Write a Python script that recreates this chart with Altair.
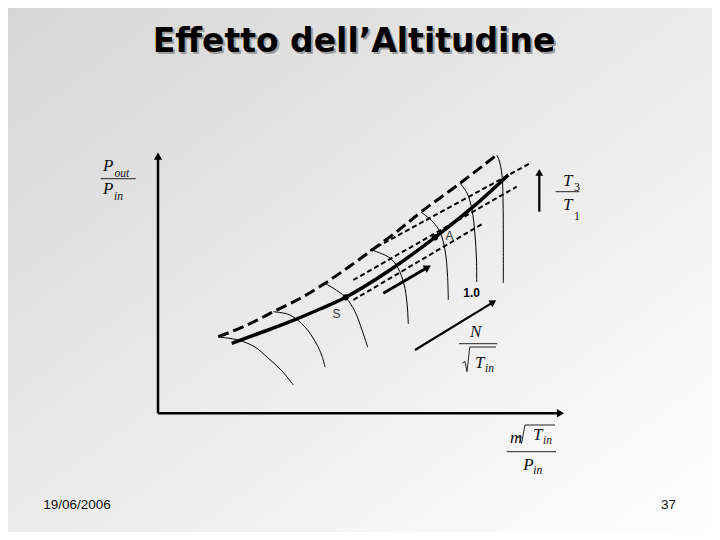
import altair as alt
import pandas as pd
import numpy as np

# ---------------- data (diagram coordinates, reference pixel units) ----------------
title_text = "Effetto dell\u2019Altitudine"
footer_date = "19/06/2006"
footer_page = "37"

# surge line (thick long dashes)
surge_x = [218.3, 245.0, 273.3, 300.0, 325.0, 348.0, 372.0, 397.0, 421.0, 460.0, 496.7]
surge_y = [336.7, 326.0, 311.7, 298.5, 283.3, 267.5, 250.0, 231.5, 212.0, 183.3, 155.0]

# operating line (thick solid)
oper_x = [231.7, 260.0, 290.0, 320.0, 345.7, 390.0, 435.0, 473.3, 508.3]
oper_y = [343.3, 333.0, 321.7, 309.0, 297.3, 270.0, 237.3, 206.7, 175.0]

# dotted operating lines (start x, start y, end x, end y)
dotted_lines = {
    "top": ([370.0, 530.0], [250.7, 163.3]),
    "mid": ([353.3, 516.7], [280.0, 186.7]),
    "low": ([353.3, 483.3], [300.0, 223.3]),
}

# constant corrected-speed lines
speed_lines = {
    "n1": ([218.3, 238.0, 255.0, 268.0, 282.0, 293.3], [337.0, 340.0, 347.0, 358.0, 371.0, 385.0]),
    "n2": ([273.3, 290.0, 305.0, 316.0, 322.0, 325.0], [311.7, 315.0, 327.0, 343.0, 356.0, 367.0]),
    "n3": ([325.0, 345.0, 355.0, 362.0, 367.7], [283.3, 296.7, 311.7, 330.0, 347.0]),
    "n4": ([372.0, 390.0, 398.0, 404.0, 407.0, 408.3], [250.0, 258.0, 268.0, 284.0, 303.0, 324.0]),
    "n5": ([421.0, 433.0, 440.0, 445.0, 447.5, 448.3], [212.0, 222.0, 232.0, 250.0, 275.0, 300.0]),
    "n6": ([460.0, 467.0, 472.0, 475.0, 476.5, 476.7], [183.3, 193.0, 210.0, 235.0, 260.0, 282.0]),
    "n7": ([496.7, 499.0, 502.0, 503.0, 503.3, 503.3], [155.0, 160.0, 175.0, 200.0, 240.0, 283.0]),
}

# operating points
point_names = ["S", "A"]
point_x = [345.7, 435.0]
point_y = [297.3, 237.3]

# arrows: tail -> tip
arrow_names = ["yaxis", "xaxis", "small", "big", "temp"]
arrow_x1 = [158.0, 158.0, 383.3, 415.0, 539.3]
arrow_y1 = [413.3, 413.3, 293.3, 350.0, 211.7]
arrow_x2 = [158.0, 565.0, 431.7, 496.7, 539.3]
arrow_y2 = [151.7, 413.3, 265.0, 300.0, 168.3]

# ---------------- styles ----------------
W, H = 704, 524
XS = alt.Scale(domain=[8, 712], nice=False, zero=False)
YS = alt.Scale(domain=[8, 532], nice=False, zero=False, reverse=True)
arrow_style = {  # stroke width, head size, head length
    "yaxis": (2.5, 70, 4.5),
    "xaxis": (2.5, 70, 4.5),
    "small": (3.0, 70, 4.5),
    "big": (2.2, 60, 4.0),
    "temp": (2.2, 60, 4.0),
}


def xy(xf="x", yf="y"):
    return dict(x=alt.X(f"{xf}:Q", scale=XS, axis=None), y=alt.Y(f"{yf}:Q", scale=YS, axis=None))


def lines_df(d):
    rows = []
    for k, (xs, ys) in d.items():
        for i, (a, b) in enumerate(zip(xs, ys)):
            rows.append({"id": k, "ord": i, "x": a, "y": b})
    return pd.DataFrame(rows)


layers = []

# background gradient
bg = alt.Chart(pd.DataFrame({"a": [0]})).mark_rect(
    fill=alt.Gradient(
        gradient="linear",
        stops=[alt.GradientStop(color="#d6d6d6", offset=0), alt.GradientStop(color="#ffffff", offset=1)],
        x1=0, y1=0, x2=1, y2=1,
    )
).encode(x=alt.value(0), x2=alt.value(W), y=alt.value(0), y2=alt.value(H))
layers.append(bg)

# speed lines
layers.append(
    alt.Chart(lines_df(speed_lines)).mark_line(color="black", strokeWidth=1, interpolate="catmull-rom")
    .encode(**xy(), detail="id:N", order="ord:Q")
)
# dotted lines
layers.append(
    alt.Chart(lines_df(dotted_lines)).mark_line(color="black", strokeWidth=2, strokeDash=[5, 3])
    .encode(**xy(), detail="id:N", order="ord:Q")
)
# surge line
layers.append(
    alt.Chart(lines_df({"surge": (surge_x, surge_y)})).mark_line(
        color="black", strokeWidth=3, strokeDash=[11, 5], interpolate="catmull-rom")
    .encode(**xy(), detail="id:N", order="ord:Q")
)
# operating line
layers.append(
    alt.Chart(lines_df({"oper": (oper_x, oper_y)})).mark_line(
        color="black", strokeWidth=3.5, interpolate="catmull-rom")
    .encode(**xy(), detail="id:N", order="ord:Q")
)
# points
layers.append(
    alt.Chart(pd.DataFrame({"x": point_x, "y": point_y})).mark_circle(color="black", opacity=1, size=40)
    .encode(**xy())
)

# arrows
for n, x1, y1, x2, y2 in zip(arrow_names, arrow_x1, arrow_y1, arrow_x2, arrow_y2):
    sw, hs, hl = arrow_style[n]
    dx, dy = x2 - x1, y2 - y1
    L = np.hypot(dx, dy)
    ux, uy = dx / L, dy / L
    hx, hy = x2 - ux * hl, y2 - uy * hl
    ang = float(np.degrees(np.arctan2(dx, -dy)) % 360)
    df = pd.DataFrame({"x": [x1], "y": [y1], "x2": [hx], "y2": [hy], "hx": [hx], "hy": [hy], "ang": [ang]})
    layers.append(
        alt.Chart(df).mark_rule(color="black", strokeWidth=sw)
        .encode(**xy(), x2="x2:Q", y2="y2:Q")
    )
    layers.append(
        alt.Chart(df).mark_point(shape="triangle-up", filled=True, color="black", opacity=1, size=hs)
        .encode(**xy("hx", "hy"), angle=alt.Angle("ang:Q", scale=None))
    )

# fraction bars and radicals
bars = {
    "p": ([100.7, 135.7], [178.7, 178.7]),
    "t": ([555.7, 579.3], [191.7, 191.7]),
    "n": ([459.0, 497.3], [343.7, 343.7]),
    "m": ([506.7, 556.0], [451.7, 451.7]),
    "rad1": ([462.3, 465.0, 467.0, 469.8, 496.0], [363.0, 361.5, 371.7, 347.0, 347.0]),
    "rad2": ([517.0, 519.5, 521.5, 525.0, 555.0], [438.0, 436.5, 443.5, 425.0, 425.0]),
}
layers.append(
    alt.Chart(lines_df(bars)).mark_line(color="#222222", strokeWidth=1)
    .encode(**xy(), detail="id:N", order="ord:Q")
)


def text_layer(xs, ys, texts, **kw):
    df = pd.DataFrame({"x": xs, "y": ys, "t": texts})
    return alt.Chart(df).mark_text(**kw).encode(**xy(), text="t:N")


serif = dict(font="Liberation Serif", fontStyle="italic", color="#111111", align="left", baseline="alphabetic")
# main math letters
layers.append(text_layer(
    [103.0, 103.0, 563.0, 563.0, 470.0, 475.0, 510.0, 533.0, 523.3],
    [170.5, 193.5, 186.0, 210.0, 337.0, 368.0, 443.0, 440.0, 470.0],
    ["P", "P", "T", "T", "N", "T", "m", "T", "P"],
    fontSize=17, **serif))
# subscripts
layers.append(text_layer(
    [114.5, 114.0, 485.0, 543.0, 533.3],
    [177.3, 200.0, 371.5, 443.5, 474.0],
    ["out", "in", "in", "in", "in"],
    fontSize=11.5, **serif))
layers.append(text_layer(
    [574.0, 574.0], [190.5, 219.5], ["3", "1"],
    fontSize=12, font="Liberation Serif", color="#111111", align="left", baseline="alphabetic"))

# point labels
layers.append(text_layer([332.5, 445.5], [318.0, 240.0], ["S", "A"],
                         fontSize=12, font="Liberation Sans", color="#333333", align="left", baseline="alphabetic"))
layers.append(text_layer([463.3], [296.7], ["1.0"],
                         fontSize=12, fontWeight="bold", font="Liberation Sans", color="black",
                         align="left", baseline="alphabetic"))

# title with shadow
layers.append(text_layer([356.0], [54.0], [title_text], fontSize=33, fontWeight="bold", font="DejaVu Sans",
                         color="#9c9c9c", align="center", baseline="alphabetic"))
layers.append(text_layer([354.0], [52.0], [title_text], fontSize=33, fontWeight="bold", font="DejaVu Sans",
                         color="black", align="center", baseline="alphabetic"))

# footer
layers.append(text_layer([43.3], [509.0], [footer_date], fontSize=13.5, font="Liberation Sans",
                         color="#111111", align="left", baseline="alphabetic"))
layers.append(text_layer([676.0], [509.0], [footer_page], fontSize=13.5, font="Liberation Sans",
                         color="#111111", align="right", baseline="alphabetic"))

chart = alt.layer(*layers).properties(width=W, height=H, padding=0, autosize="none").configure_view(stroke=None)
chart.save("out.html", embed_options={"renderer": "svg", "actions": False})
